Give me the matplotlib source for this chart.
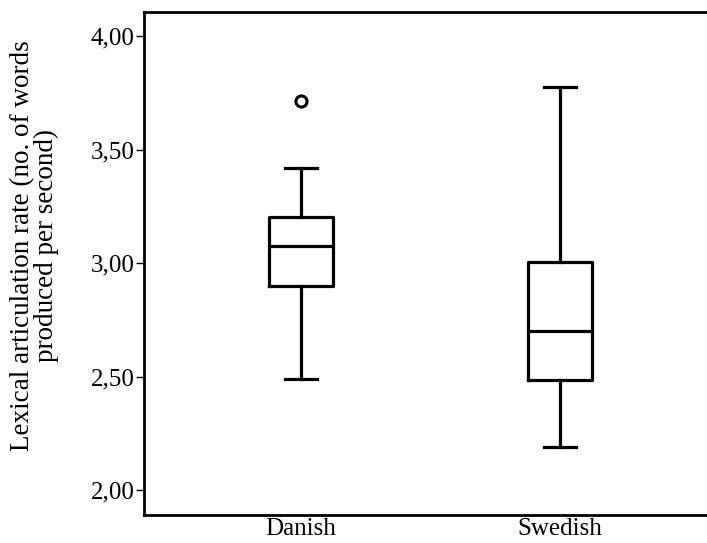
import matplotlib.pyplot as plt
from matplotlib.ticker import FuncFormatter

# values
groups = ['Danish', 'Swedish']
whisker_low = [2.49, 2.19]
q1 = [2.90, 2.485]
median = [3.075, 2.70]
q3 = [3.205, 3.005]
whisker_high = [3.42, 3.775]
outliers = [[3.715], []]

yticks = [2.00, 2.50, 3.00, 3.50, 4.00]

plt.rcParams['font.family'] = ['Liberation Serif', 'DejaVu Serif']

fig = plt.figure(figsize=(7.07, 5.43), dpi=100)
ax = fig.add_axes([144 / 707, 28 / 543, (717 - 144) / 707, (515 - 12) / 543])

stats = []
for i in range(len(groups)):
    stats.append({'label': groups[i], 'whislo': whisker_low[i], 'q1': q1[i],
                  'med': median[i], 'q3': q3[i], 'whishi': whisker_high[i],
                  'fliers': outliers[i]})

lw = 2.3
ax.bxp(stats, positions=[1, 2], widths=0.25, capwidths=0.125,
       boxprops=dict(color='black', linewidth=lw),
       medianprops=dict(color='black', linewidth=lw),
       whiskerprops=dict(color='black', linewidth=lw),
       capprops=dict(color='black', linewidth=lw),
       flierprops=dict(marker='o', markersize=8, markerfacecolor='white',
                       markeredgecolor='black', markeredgewidth=2.2))

ax.set_xlim(0.394, 2.606)
ax.set_ylim(1.89, 4.106)
ax.set_yticks(yticks)
ax.yaxis.set_major_formatter(FuncFormatter(lambda v, p: ('%.2f' % v).replace('.', ',')))
ax.tick_params(axis='y', length=6, width=1, labelsize=18, pad=1)
ax.tick_params(axis='x', length=0, labelsize=18, pad=2)
for s in ax.spines.values():
    s.set_linewidth(2)
ax.set_ylabel('Lexical articulation rate (no. of words\nproduced per second)',
              fontsize=19.5, linespacing=0.95)
ax.yaxis.set_label_coords(-0.148, 0.535)

fig.savefig('out.png', dpi=100)
